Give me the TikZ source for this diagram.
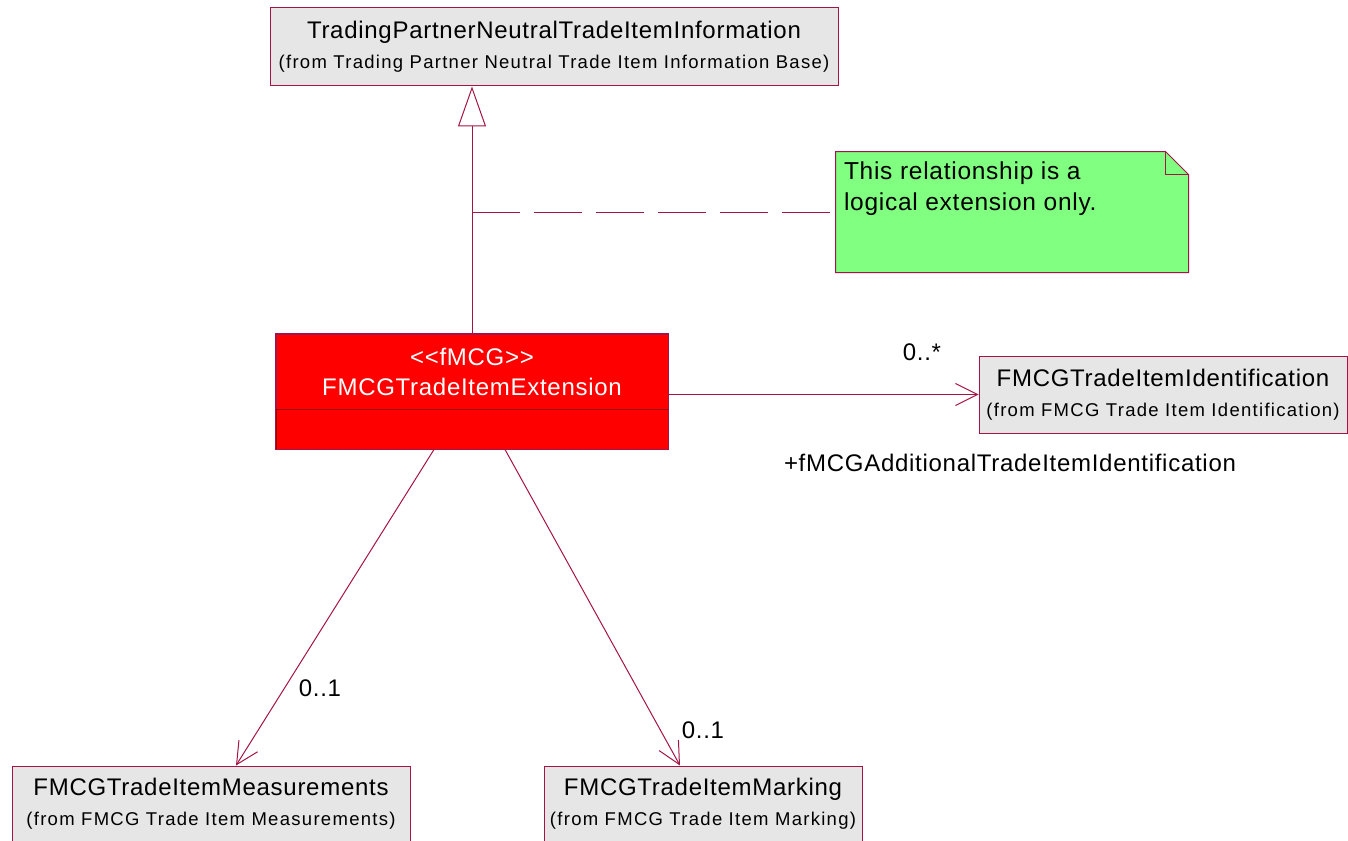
\documentclass[tikz,border=0pt]{standalone}
\usepackage{fontspec}
\setmainfont{Liberation Sans}
\newfontfamily\umlfont[LetterSpace=3]{Liberation Sans}
\newfontfamily\umlfromfont[LetterSpace=7]{Liberation Sans}
\usetikzlibrary{arrows.meta}
\definecolor{umlline}{RGB}{165,20,70}
\definecolor{umlgray}{RGB}{230,230,230}
\definecolor{notegreen}{RGB}{128,255,128}
\newcommand{\clsname}{\umlfont\fontsize{24}{30}\selectfont}
\newcommand{\clsfrom}{\umlfromfont\fontsize{18.5}{30}\selectfont}
\newcommand{\lblfont}{\umlfont\fontsize{24}{31}\selectfont}

\begin{document}
\begin{tikzpicture}[x=1pt,y=-1pt,line width=1pt,
  classbox/.style={shape=rectangle,draw=umlline,fill=umlgray,align=center,inner sep=0pt,font=\clsname},
  extbox/.style={shape=rectangle,draw=umlline,fill=red,text=white,align=center,inner sep=0pt,font=\clsname},
  assoc/.style={draw=umlline,-{Straight Barb[length=22pt,width=22pt]}},
  gen/.style={draw=umlline,-{Triangle[open,length=40pt,width=28pt,fill=white]}},
  notelink/.style={draw=umlline,dash pattern=on 48pt off 14pt}]
\useasboundingbox (0,0) rectangle (1348,840);
\fill[white] (0,0) rectangle (1348,840);
% classes
\path (554,47) node (tpnti) [classbox,minimum width=568,minimum height=78] {TradingPartnerNeutralTradeItemInformation\\{\clsfrom (from Trading Partner Neutral Trade Item Information Base)}};
\path (472,371.5) node (fmcgext) [extbox,minimum width=392,minimum height=75] {\textless\textless fMCG\textgreater\textgreater\\FMCGTradeItemExtension};
\path (472,429) node (fmcgattr) [extbox,draw=red!60!black,minimum width=392,minimum height=40] {};
\draw[umlline] (fmcgattr.south west) rectangle (fmcgext.north east);
\path (1163,394.5) node (ident) [classbox,minimum width=368,minimum height=77] {FMCGTradeItemIdentification\\{\clsfrom (from FMCG Trade Item Identification)}};
\path (211,804) node (meas) [classbox,minimum width=398,minimum height=76] {FMCGTradeItemMeasurements\\{\clsfrom (from FMCG Trade Item Measurements)}};
\path (703,804) node (mark) [classbox,minimum width=318,minimum height=76] {FMCGTradeItemMarking\\{\clsfrom (from FMCG Trade Item Marking)}};
% note
\path (1012,212) node (note) [minimum width=352,minimum height=120,inner sep=0pt] {};
\filldraw[draw=umlline,fill=notegreen] (note.south west) -- (note.north west) -- ([xshift=-23]note.north east) -- ([yshift=-23]note.north east) -- (note.south east) -- cycle;
\draw[umlline] ([xshift=-23]note.north east) -- ([xshift=-23,yshift=-23]note.north east) -- ([yshift=-23]note.north east);
\path (note.north west) node (notetext) [anchor=north west,align=left,xshift=8,yshift=-10,inner sep=0pt,font=\lblfont\fontsize{24.5}{31}\selectfont] {This relationship is a\\logical extension only.};
% connectors
\draw [gen] (fmcgext.north) -- (fmcgext.north |- tpnti.south);
\draw [notelink] (fmcgext.north |- note.west) -- (note.west);
\draw [assoc] (fmcgext.east |- ident.west) -- (ident.west);
\draw [assoc] ([xshift=-38]fmcgattr.south) -- ([xshift=25]meas.north);
\draw [assoc] ([xshift=33]fmcgattr.south) -- ([xshift=-23]mark.north);
% multiplicities and roles
\path (922,352) node (mulident) [font=\lblfont] {0..*};
\path (1010,463) node (roleident) [font=\lblfont] {+fMCGAdditionalTradeItemIdentification};
\path (320,688) node (mulmeas) [font=\lblfont] {0..1};
\path (703,730) node (mulmark) [font=\lblfont] {0..1};
\end{tikzpicture}
\end{document}
